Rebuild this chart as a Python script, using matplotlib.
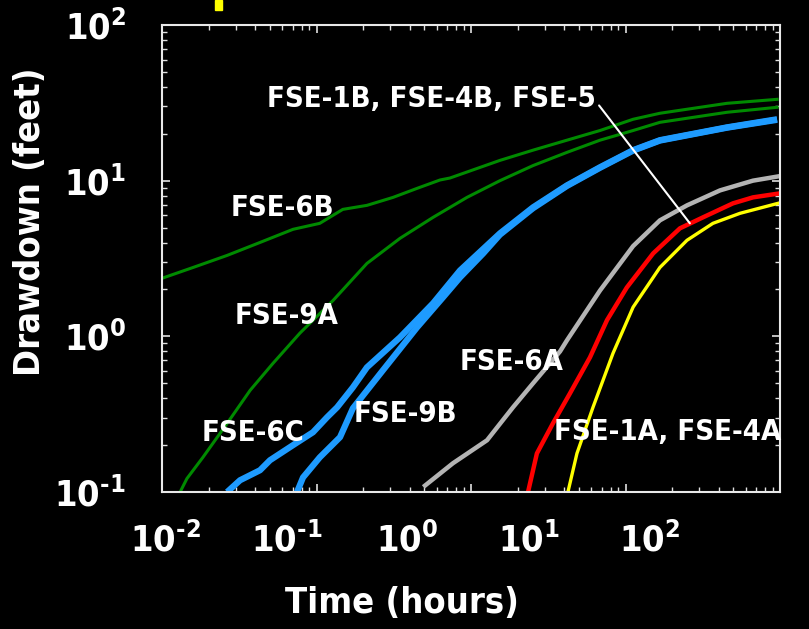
import numpy as np
import matplotlib
matplotlib.use('Agg')
import matplotlib.pyplot as plt
from matplotlib.patches import Rectangle

# --- Data (time in hours, drawdown in feet) ---
t_6b = [0.01, 0.0159, 0.0264, 0.0431, 0.0705, 0.105, 0.148, 0.212, 0.313, 0.447,
        0.630, 0.731, 1.54, 2.52, 4.18, 6.84, 11.2, 16.7, 45.4, 95.7]
d_6b = [2.36, 2.77, 3.31, 4.01, 4.87, 5.32, 6.54, 6.94, 7.81, 8.92,
        10.1, 10.4, 13.5, 15.7, 18.2, 21.0, 24.8, 27.1, 31.4, 33.3]

t_9a = [0.0131, 0.0145, 0.0184, 0.0264, 0.0372, 0.0523, 0.0782, 0.128, 0.212, 0.347,
        0.568, 0.942, 1.54, 2.52, 4.18, 6.84, 11.2, 16.7, 45.4, 95.7]
d_9a = [0.1, 0.122, 0.167, 0.276, 0.450, 0.671, 1.05, 1.70, 2.94, 4.26,
        5.81, 7.81, 10.0, 12.5, 15.2, 18.2, 21.0, 23.7, 27.5, 29.6]

t_6c = [0.0264, 0.0320, 0.0431, 0.0500, 0.0705, 0.0949, 0.117, 0.136, 0.172, 0.212,
        0.347, 0.568, 0.849, 1.54, 2.52, 4.18, 6.84, 11.2, 16.7, 45.4, 95.7]
d_6c = [0.1, 0.119, 0.138, 0.160, 0.200, 0.242, 0.302, 0.350, 0.47, 0.632,
        0.985, 1.63, 2.65, 4.59, 6.74, 9.33, 12.2, 15.7, 18.2, 22.0, 24.8]

t_9b = [0.0748, 0.0818, 0.105, 0.142, 0.172, 0.269, 0.447, 0.659, 0.849, 1.20,
        1.54, 2.52, 4.18, 6.84, 11.2, 16.7, 45.4, 95.7]
d_9b = [0.1, 0.124, 0.167, 0.225, 0.345, 0.605, 1.14, 1.78, 2.39, 3.41,
        4.50, 6.65, 9.25, 12.1, 15.6, 18.1, 21.9, 24.6]

t_6a = [0.504, 0.764, 1.27, 1.61, 1.87, 2.52, 3.77, 4.18, 6.84, 11.2,
        16.7, 25.0, 40.9, 66.8, 100]
d_6a = [0.110, 0.153, 0.215, 0.290, 0.350, 0.499, 0.80, 0.943, 1.97, 3.80,
        5.56, 6.94, 8.66, 10.0, 10.7]

t_1a = [2.34, 2.67, 3.39, 4.37, 5.89, 7.59, 10.2, 15.1, 22.5, 31.7, 49.6, 66.8, 100]
d_1a = [0.1, 0.177, 0.276, 0.430, 0.733, 1.27, 2.06, 3.41, 4.94, 5.81, 7.15, 7.81, 8.29]

t_4a = [4.24, 4.85, 6.16, 8.30, 11.2, 16.7, 25.0, 36.8, 55.1, 97.0]
d_4a = [0.1, 0.177, 0.350, 0.778, 1.54, 2.77, 4.14, 5.32, 6.17, 7.15]

x_ticks = [1e-2, 1e-1, 1e0, 1e1, 1e2]
y_ticks = [1e-1, 1e0, 1e1, 1e2]
x_labels = ['$\\mathdefault{10^{\u20102}}$', '$\\mathdefault{10^{\u20101}}$',
            '$\\mathdefault{10^{0}}$', '$\\mathdefault{10^{1}}$', '$\\mathdefault{10^{2}}$']
y_labels = ['$\\mathdefault{10^{\u20101}}$', '$\\mathdefault{10^{0}}$',
            '$\\mathdefault{10^{1}}$', '$\\mathdefault{10^{2}}$']

plt.rcParams['font.family'] = ['DejaVu Sans']
plt.rcParams['font.stretch'] = 'condensed'
plt.rcParams['font.weight'] = 'bold'
plt.rcParams['axes.labelweight'] = 'bold'
plt.rcParams['axes.unicode_minus'] = False
plt.rcParams['text.color'] = 'white'

fig = plt.figure(figsize=(8.09, 6.29), dpi=100, facecolor='black')
ax = fig.add_axes([162 / 809, 1 - 492 / 629, 618 / 809, 467 / 629], facecolor='black')

ax.plot(t_6b, d_6b, color='#008a00', lw=2.2)
ax.plot(t_9a, d_9a, color='#008a00', lw=2.2)
ax.plot(t_6c, d_6c, color='#1e9bff', lw=4.5, solid_capstyle='butt')
ax.plot(t_9b, d_9b, color='#1e9bff', lw=4.5, solid_capstyle='butt')
ax.plot(t_6a, d_6a, color='#b4b4b4', lw=3.2)
ax.plot(t_1a, d_1a, color='#ff0000', lw=3.2)
ax.plot(t_4a, d_4a, color='#ffff00', lw=2.4)

ax.set_xscale('log')
ax.set_yscale('log')
ax.set_xlim(1e-2, 1e2)
ax.set_ylim(1e-1, 1e2)

for s in ax.spines.values():
    s.set_color('#e8e8e8')
    s.set_linewidth(1.5)
ax.tick_params(which='both', direction='in', top=True, right=True, colors='#e0e0e0')
ax.tick_params(which='major', length=6, width=1.2)
ax.tick_params(which='minor', length=3.5, width=1.0)
ax.set_yticks(y_ticks)
ax.set_yticklabels(y_labels)
ax.tick_params(axis='y', which='major', labelsize=26, pad=26, labelcolor='white')
ax.tick_params(axis='x', labelbottom=False)

# x tick labels in the reference sit on a compressed scale, drawn on a hidden axis
lab = fig.add_axes([165 / 809, 1 - 492 / 629, 485 / 809, 0.01])
lab.set_xscale('log')
lab.set_xlim(1e-2, 1e2)
lab.set_xticks(x_ticks)
lab.set_xticklabels(x_labels)
lab.set_yticks([])
lab.minorticks_off()
lab.patch.set_visible(False)
for s in lab.spines.values():
    s.set_visible(False)
lab.tick_params(axis='x', length=0, labelsize=26, pad=22, labelcolor='white')

ax.set_xlabel('Time (hours)', fontsize=26, color='white')
ax.xaxis.set_label_coords(0.388, -0.238)
ax.xaxis.label.set_va('center')
ax.set_ylabel('Drawdown (feet)', fontsize=26, color='white')
ax.yaxis.set_label_coords(-0.214, 0.578)
ax.yaxis.label.set_va('center')

txt = dict(fontsize=21, color='white', ha='center', va='center')
ax.annotate('FSE-1B, FSE-4B, FSE-5', xy=(26.1, 5.32), xytext=(0.551, 33.3),
            arrowprops=dict(arrowstyle='-', color='white', lw=1.5, relpos=(1.0, 0.45),
                            shrinkA=1, shrinkB=0), **txt)
ax.text(0.0598, 6.64, 'FSE-6B', **txt)
ax.text(0.0644, 1.36, 'FSE-9A', **txt)
ax.text(0.0388, 0.238, 'FSE-6C', **txt)
ax.text(0.374, 0.315, 'FSE-9B', **txt)
ax.text(1.84, 0.681, 'FSE-6A', **txt)
ax.text(18.6, 0.242, 'FSE-1A, FSE-4A', **txt)

# clipped piece of yellow title glyph at the very top
fig.patches.append(Rectangle((215 / 809, 1 - 10 / 629), 7 / 809, 10 / 629,
                             transform=fig.transFigure, color='#ffff00'))

fig.savefig('out.png', dpi=100, facecolor='black')
